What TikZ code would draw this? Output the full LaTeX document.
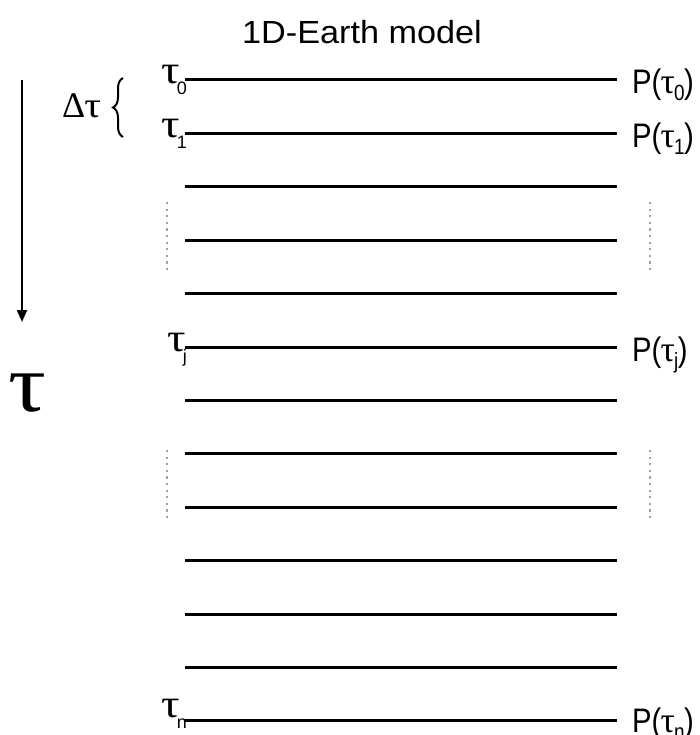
\documentclass[tikz,border=0pt]{standalone}
\usepackage{fontspec}
\setmainfont{Liberation Sans}
\newfontfamily\grk{Liberation Serif}
\usetikzlibrary{arrows.meta,decorations.pathreplacing}
\newcommand{\gtau}[1]{\scalebox{1.15}[1]{\fontsize{#1}{#1}\selectfont\grk τ}}
\newcommand{\tlab}[1]{\gtau{40}\kern-3pt\raisebox{-11pt}{\fontsize{18}{18}\selectfont #1}}
\newcommand{\plab}[1]{\scalebox{0.86}[1]{\fontsize{34}{34}\selectfont P(\kern-1pt\gtau{36}\kern-1pt\raisebox{-7pt}{\fontsize{22}{22}\selectfont #1}\kern-0.5pt)}}
\tikzset{
  layer/.style={line width=3pt},
  dotv/.style={line width=2pt, gray!75, dash pattern=on 2.2pt off 4.4pt},
  leftlab/.style={anchor=base east, inner sep=0pt},
  rightlab/.style={anchor=base west, inner sep=0pt},
}
\begin{document}
\begin{tikzpicture}[x=1pt,y=-1pt]
\useasboundingbox (0,0) rectangle (700,735);
\node[anchor=base, inner sep=0pt] (title) at (362,44) {\scalebox{1.07}[1]{\fontsize{32}{32}\selectfont 1D-Earth model}};
\foreach \k in {0,...,12}{
  \coordinate (L\k) at (185,{80+\k*53.4});
  \coordinate (R\k) at (617,{80+\k*53.4});
  \draw[layer] (L\k) -- (R\k);
}
\node[leftlab] (t0) at ([xshift=2pt,yshift=-4pt]L0) {\tlab{0}};
\node[leftlab] (t1) at ([xshift=2pt,yshift=-4pt]L1) {\tlab{1}};
\node[leftlab] (tj) at ([xshift=2pt,yshift=-4pt]L5) {\tlab{j}};
\node[leftlab] (tn) at ([xshift=2pt,yshift=3pt]L12) {\tlab{n}};
\node[rightlab] (p0) at ([xshift=15pt,yshift=-14pt]R0) {\plab{0}};
\node[rightlab] (p1) at ([xshift=15pt,yshift=-14pt]R1) {\plab{1}};
\node[rightlab] (pj) at ([xshift=15pt,yshift=-14pt]R5) {\plab{j}};
\node[rightlab] (pn) at ([xshift=15pt,yshift=-12pt]R12) {\plab{n}};
\coordinate (dl1a) at (167,202); \coordinate (dl1b) at (167,272);
\coordinate (dr1a) at (650,202); \coordinate (dr1b) at (650,272);
\coordinate (dl2a) at (167,450); \coordinate (dl2b) at (167,522);
\coordinate (dr2a) at (650,450); \coordinate (dr2b) at (650,522);
\draw[dotv] (dl1a) -- (dl1b);
\draw[dotv] (dr1a) -- (dr1b);
\draw[dotv] (dl2a) -- (dl2b);
\draw[dotv] (dr2a) -- (dr2b);
\coordinate (arrA) at (22,80);
\coordinate (arrB) at (22,322);
\draw[line width=2pt, -{Triangle[length=12pt,width=10pt]}] (arrA) -- (arrB);
\node[inner sep=0pt] (bigtau) at (27,393) {\gtau{82}};
\node[anchor=base west, inner sep=0pt] (dtau) at (62,118) {\fontsize{36}{36}\selectfont\grk Δ\kern-1pt\gtau{36}};
\coordinate (brB) at (123,137);
\coordinate (brT) at (123,78);
\draw[line width=2pt, decorate, decoration={brace, amplitude=10pt}] (brB) -- (brT);
\end{tikzpicture}
\end{document}
